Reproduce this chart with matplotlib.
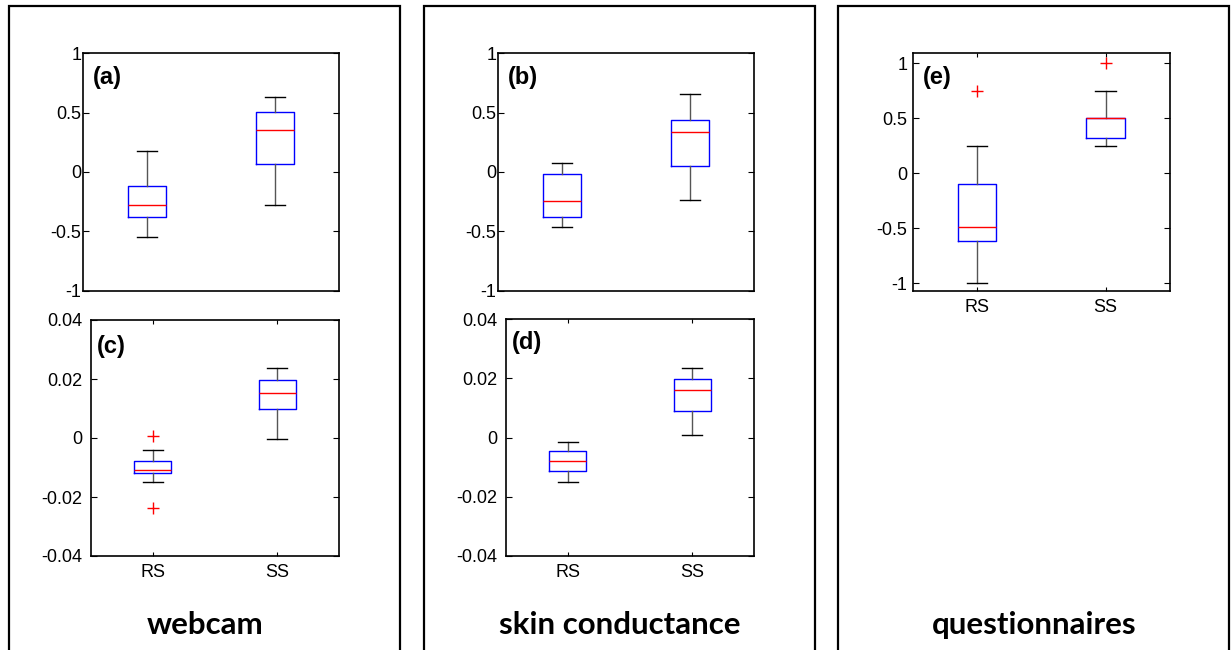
import matplotlib.pyplot as plt
from matplotlib.patches import Rectangle

plt.rcParams['font.family'] = ['Liberation Sans', 'DejaVu Sans']
plt.rcParams['axes.unicode_minus'] = False

# group names
groups = ['RS', 'SS']

# box statistics: [whislo, q1, med, q3, whishi]
webcam_a = [[-0.55, -0.378, -0.28, -0.122, 0.178],
            [-0.28, 0.067, 0.35, 0.503, 0.636]]
skin_b = [[-0.467, -0.378, -0.247, -0.019, 0.078],
          [-0.236, 0.05, 0.336, 0.436, 0.661]]
webcam_c = [[-0.0149, -0.0119, -0.0107, -0.0077, -0.0040],
            [-0.0002, 0.0100, 0.0153, 0.0195, 0.0237]]
webcam_c_out = [[0.0008, -0.0236], []]
skin_d = [[-0.0149, -0.0114, -0.0079, -0.0045, -0.0016],
          [0.0008, 0.0090, 0.0160, 0.0199, 0.0234]]
quest_e = [[-1.0, -0.62, -0.49, -0.10, 0.25],
           [0.25, 0.32, 0.50, 0.50, 0.75]]
quest_e_out = [[0.75], [1.0]]

ticks_big = [-1, -0.5, 0, 0.5, 1]
ticklabels_big = ['-1', '-0.5', '0', '0.5', '1']
ticks_small = [-0.04, -0.02, 0, 0.02, 0.04]
ticklabels_small = ['-0.04', '-0.02', '0', '0.02', '0.04']

W, H = 1231, 650
fig = plt.figure(figsize=(W / 100, H / 100), dpi=100)


def px_axes(l, t, r, b):
    return fig.add_axes([l / W, 1 - b / H, (r - l) / W, (b - t) / H])


def make_stats(vals, outs=None):
    st = []
    for i, v in enumerate(vals):
        st.append(dict(whislo=v[0], q1=v[1], med=v[2], q3=v[3], whishi=v[4],
                       fliers=(outs[i] if outs else [])))
    return st


def draw(ax, vals, outs, ylim, yt, ytl, letter, lx, ly, xlabels, pad):
    ax.bxp(make_stats(vals, outs), positions=[1, 2], widths=0.3, capwidths=0.16,
           boxprops=dict(color='blue', linewidth=1),
           medianprops=dict(color='red', linewidth=1),
           whiskerprops=dict(color='#555555', linewidth=1),
           capprops=dict(color='black', linewidth=1),
           flierprops=dict(marker='+', markeredgecolor='red', markersize=8,
                           markeredgewidth=1))
    ax.set_xlim(0.5, 2.5)
    ax.set_ylim(*ylim)
    ax.set_yticks(yt)
    ax.set_yticklabels(ytl)
    if xlabels:
        ax.set_xticks([1, 2])
        ax.set_xticklabels(groups)
        ax.tick_params(axis='x', direction='in', top=True, length=3, pad=6,
                       labelsize=13)
    else:
        ax.set_xticks([])
    ax.tick_params(axis='y', direction='in', right=True, length=4, pad=pad,
                   labelsize=13)
    for s in ax.spines.values():
        s.set_linewidth(1.2)
    ax.text(lx, ly, letter, transform=ax.transAxes, fontsize=17,
            fontweight='bold', va='center', ha='left')


# panel frames
for x0, x1 in [(9, 400), (424, 815), (838, 1229)]:
    fig.patches.append(Rectangle((x0 / W, -0.05), (x1 - x0) / W, 1.05 - 6 / H,
                                 transform=fig.transFigure, fill=False,
                                 edgecolor='black', linewidth=1.6))

ax_a = px_axes(82.7, 53.3, 339.3, 290.7)
draw(ax_a, webcam_a, None, (-1, 1), ticks_big, ticklabels_big, '(a)', 0.04, 0.9, False, 1)
ax_c = px_axes(90.7, 320, 339.3, 556)
draw(ax_c, webcam_c, webcam_c_out, (-0.04, 0.04), ticks_small, ticklabels_small, '(c)', 0.024, 0.887, True, 6)

ax_b = px_axes(497.7, 53.3, 754.3, 290.7)
draw(ax_b, skin_b, None, (-1, 1), ticks_big, ticklabels_big, '(b)', 0.041, 0.9, False, 1)
ax_d = px_axes(505.7, 319.3, 754.3, 556)
draw(ax_d, skin_d, None, (-0.04, 0.04), ticks_small, ticklabels_small, '(d)', 0.024, 0.9, True, 6)

ax_e = px_axes(912.7, 53.3, 1170, 290.7)
draw(ax_e, quest_e, quest_e_out, (-1.07, 1.09), ticks_big, ticklabels_big, '(e)', 0.041, 0.9, True, 4)

# panel titles
for x, t in [(205, 'webcam'), (620, 'skin conductance'), (1034.5, 'questionnaires')]:
    fig.text(x / W, 1 - 634 / H, t, fontsize=22.5, fontweight='bold',
             family=['Lato', 'DejaVu Sans'], ha='center', va='baseline')

fig.savefig('out.png', dpi=100)
